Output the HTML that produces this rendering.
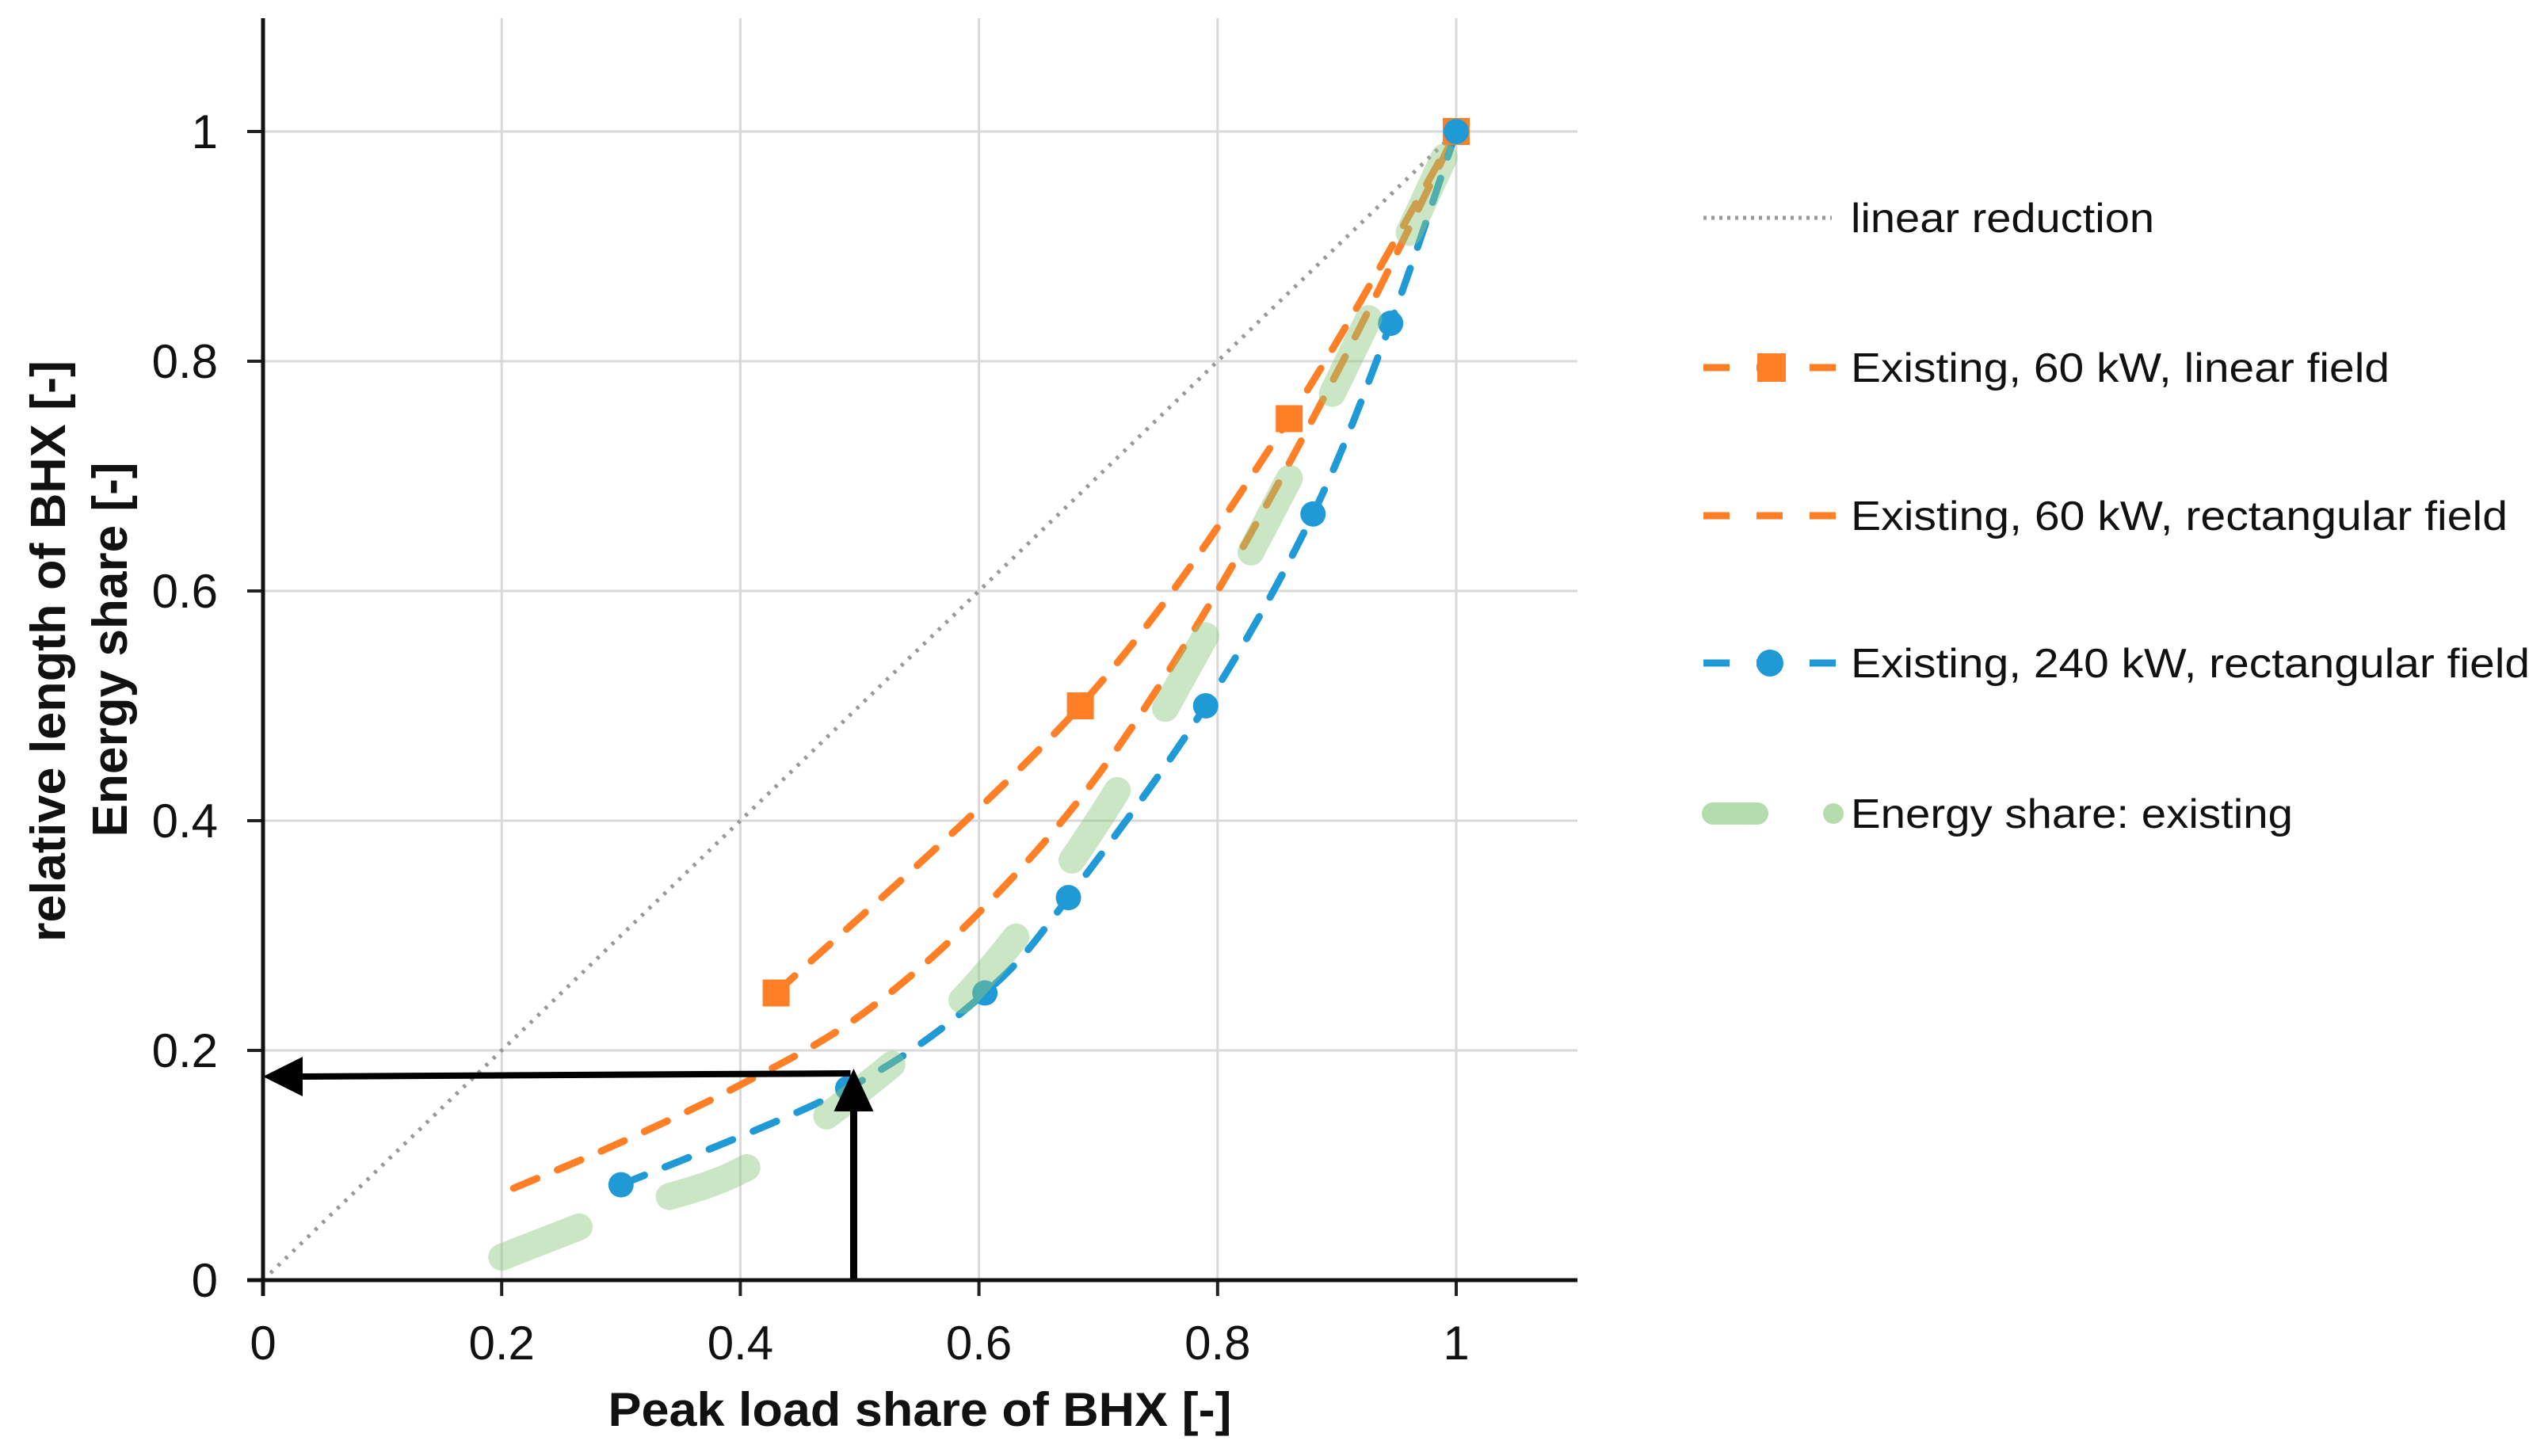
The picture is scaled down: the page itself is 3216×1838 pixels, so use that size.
<!DOCTYPE html>
<html><head><meta charset="utf-8"><style>
html,body{margin:0;padding:0;background:#fff}
svg{display:block}
text{font-family:"Liberation Sans",Arial,sans-serif}
</style></head><body>
<svg id="chart" width="3216" height="1838" viewBox="0 0 3216 1838" xmlns="http://www.w3.org/2000/svg">
<g id="grid"></g>
<g id="series"></g>
<g id="axes"></g>
<text x="1161" y="1800" font-size="60" font-weight="bold" text-anchor="middle" textLength="787" lengthAdjust="spacingAndGlyphs" fill="#111">Peak load share of BHX [-]</text>
<text transform="translate(82,822) rotate(-90)" font-size="62" font-weight="bold" text-anchor="middle" textLength="734" lengthAdjust="spacingAndGlyphs" fill="#111">relative length of BHX [-]</text>
<text transform="translate(160,820) rotate(-90)" font-size="62" font-weight="bold" text-anchor="middle" textLength="473" lengthAdjust="spacingAndGlyphs" fill="#111">Energy share [-]</text>
<g id="legend">
 <g>
  <line x1="2150" y1="275" x2="2312" y2="275" stroke="#999" stroke-width="5" stroke-dasharray="4 6"/>
  <text x="2336" y="293" font-size="52" textLength="383" lengthAdjust="spacingAndGlyphs" fill="#111">linear reduction</text>
 </g>
 <g>
  <line x1="2150" y1="464" x2="2321" y2="464" stroke="#ff7f27" stroke-width="9" stroke-dasharray="33 34"/>
  <rect x="2218" y="446" width="36" height="36" fill="#ff7f27"/>
  <text x="2336" y="482" font-size="52" textLength="680" lengthAdjust="spacingAndGlyphs" fill="#111">Existing, 60 kW, linear field</text>
 </g>
 <g>
  <line x1="2150" y1="651" x2="2321" y2="651" stroke="#ff7f27" stroke-width="9" stroke-dasharray="33 34"/>
  <text x="2336" y="669" font-size="52" textLength="829" lengthAdjust="spacingAndGlyphs" fill="#111">Existing, 60 kW, rectangular field</text>
 </g>
 <g>
  <line x1="2150" y1="837" x2="2321" y2="837" stroke="#1f9ad6" stroke-width="9" stroke-dasharray="33 34"/>
  <circle cx="2234" cy="837" r="17" fill="#1f9ad6"/>
  <text x="2336" y="855" font-size="52" textLength="857" lengthAdjust="spacingAndGlyphs" fill="#111">Existing, 240 kW, rectangular field</text>
 </g>
 <g>
  <line x1="2162" y1="1027" x2="2218" y2="1027" stroke="#b5dcac" stroke-width="28" stroke-linecap="round"/>
  <circle cx="2314" cy="1027" r="13" fill="#b5dcac"/>
  <text x="2336" y="1045" font-size="52" textLength="558" lengthAdjust="spacingAndGlyphs" fill="#111">Energy share: existing</text>
 </g>
</g>
</svg>
<script>
const xTicks=[0,0.2,0.4,0.6,0.8,1];
const yTicks=[0,0.2,0.4,0.6,0.8,1];
const xTickLabels=["0","0.2","0.4","0.6","0.8","1"];
const yTickLabels=["0","0.2","0.4","0.6","0.8","1"];
const linearX=[0.43,0.685,0.86,1];
const linearY=[0.25,0.5,0.75,1];
const rect60X=[0.21,0.3,0.4,0.5,0.6,0.7,0.8,0.9,1];
const rect60Y=[0.08,0.12,0.17,0.23,0.32,0.44,0.6,0.79,1];
const rect240X=[0.3,0.49,0.605,0.675,0.79,0.88,0.945,1];
const rect240Y=[0.083,0.167,0.25,0.333,0.5,0.667,0.833,1];
const energyX=[0.2,0.3,0.4,0.5,0.6,0.7,0.8,0.9,1];
const energyY=[0.02,0.06,0.095,0.165,0.26,0.4,0.58,0.78,1];
const arrowX=[0.495];
const arrowY=[0.18];

const X0=332,XU=1506,Y0=1616,YU=1450;
const sx=v=>X0+v*XU, sy=v=>Y0-v*YU;
const NS="http://www.w3.org/2000/svg";
function mk(tag,attrs,parent){const e=document.createElementNS(NS,tag);for(const k in attrs)e.setAttribute(k,attrs[k]);parent.appendChild(e);return e;}
const grid=document.getElementById('grid'),axes=document.getElementById('axes'),series=document.getElementById('series');

xTicks.forEach((t,i)=>{
 if(t>0){const g=mk('line',{x1:sx(t),x2:sx(t),y1:23,y2:Y0,stroke:'#d9d9d9','stroke-width':3},grid);
 
 }
 const tk=mk('line',{x1:sx(t),x2:sx(t),y1:Y0,y2:Y0+20,stroke:'#222','stroke-width':4},axes);
 
 
 const tx=mk('text',{x:sx(t),y:Y0+100,'font-size':60,'text-anchor':'middle',fill:'#111'},axes);
 tx.textContent=xTickLabels[i];
 
 
});
yTicks.forEach((t,i)=>{
 if(t>0){const g=mk('line',{x1:X0,x2:1991,y1:sy(t),y2:sy(t),stroke:'#d9d9d9','stroke-width':3},grid);
 
 }
 const tk=mk('line',{x1:X0-20,x2:X0,y1:sy(t),y2:sy(t),stroke:'#222','stroke-width':4},axes);
 
 
 const tx=mk('text',{x:275,y:sy(t)+21,'font-size':60,'text-anchor':'end',fill:'#111'},axes);
 tx.textContent=yTickLabels[i];
 
 
});
const xa=mk('line',{x1:X0-20,x2:1991,y1:Y0,y2:Y0,stroke:'#111','stroke-width':5},axes);


const ya=mk('line',{x1:X0,x2:X0,y1:23,y2:Y0+20,stroke:'#111','stroke-width':5},axes);



function smooth(xs,ys){
 const p=xs.map((x,i)=>[sx(x),sy(ys[i])]);
 let d='M'+p[0][0]+','+p[0][1];
 for(let i=0;i<p.length-1;i++){
  const p0=p[i-1]||p[i],p1=p[i],p2=p[i+1],p3=p[i+2]||p[i+1];
  const c1=[p1[0]+(p2[0]-p0[0])/6,p1[1]+(p2[1]-p0[1])/6];
  const c2=[p2[0]-(p3[0]-p1[0])/6,p2[1]-(p3[1]-p1[1])/6];
  d+=' C'+c1+' '+c2+' '+p2;
 }
 return d;
}
// diagonal
const diag=mk('line',{x1:sx(0),y1:sy(0),x2:sx(1),y2:sy(1),stroke:'#999','stroke-width':5,'stroke-dasharray':'4 9'},series);



const l1=mk('path',{d:smooth(linearX,linearY),fill:'none',stroke:'#ff7f27','stroke-width':9,'stroke-dasharray':'32 28','stroke-linecap':'round'},series);


const l2=mk('path',{d:smooth(rect60X,rect60Y),fill:'none',stroke:'#ff7f27','stroke-width':9,'stroke-dasharray':'32 28','stroke-linecap':'round'},series);


const l3=mk('path',{d:smooth(rect240X,rect240Y),fill:'none',stroke:'#1f9ad6','stroke-width':9,'stroke-dasharray':'32 28','stroke-linecap':'round'},series);


linearX.forEach((x,i)=>{
 const r=mk('rect',{x:sx(x)-17,y:sy(linearY[i])-17,width:34,height:34,fill:'#ff7f27'},series);
 
 
});
rect240X.forEach((x,i)=>{
 const c=mk('circle',{cx:sx(x),cy:sy(rect240Y[i]),r:16,fill:'#1f9ad6'},series);
 
 
});
const en=mk('path',{d:smooth(energyX,energyY),fill:'none',stroke:'rgba(140,200,125,0.45)','stroke-width':34,'stroke-dasharray':'105 120','stroke-linecap':'round'},series);



// arrows
const ax=sx(arrowX[0]),ay=sy(arrowY[0]);
const h=mk('path',{d:`M${ax-4},${ay} L${X0+40},${ay+4}`,stroke:'#000','stroke-width':8,fill:'none'},series);


const hh=mk('path',{d:`M${X0},${ay+4} L${X0+50},${ay-21} L${X0+50},${ay+29} Z`,fill:'#000'},series);


const v=mk('line',{x1:ax,y1:Y0,x2:ax,y2:ay+45,stroke:'#000','stroke-width':9},series);


const vh=mk('path',{d:`M${ax},${ay-6} L${ax-25},${ay+48} L${ax+25},${ay+48} Z`,fill:'#000'},series);


</script>
</body></html>
